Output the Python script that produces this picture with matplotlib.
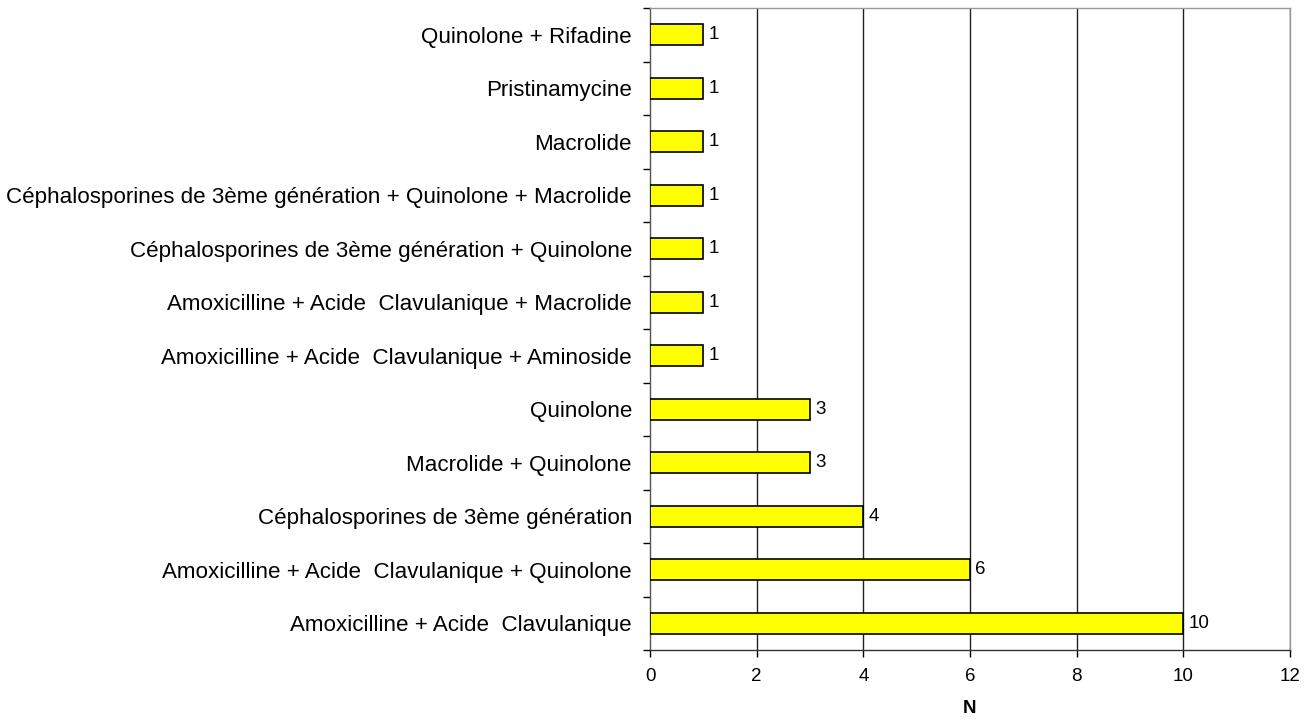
import matplotlib
matplotlib.use("Agg")
import matplotlib.pyplot as plt
import numpy as np

plt.rcParams['font.family'] = ['Liberation Sans', 'DejaVu Sans']

categories = [
    "Amoxicilline + Acide  Clavulanique",
    "Amoxicilline + Acide  Clavulanique + Quinolone",
    "Céphalosporines de 3ème génération",
    "Macrolide + Quinolone",
    "Quinolone",
    "Amoxicilline + Acide  Clavulanique + Aminoside",
    "Amoxicilline + Acide  Clavulanique + Macrolide",
    "Céphalosporines de 3ème génération + Quinolone",
    "Céphalosporines de 3ème génération + Quinolone + Macrolide",
    "Macrolide",
    "Pristinamycine",
    "Quinolone + Rifadine",
]
counts = [10, 6, 4, 3, 3, 1, 1, 1, 1, 1, 1, 1]
x_ticks = [0, 2, 4, 6, 8, 10, 12]

fig = plt.figure(figsize=(13.16, 7.19), dpi=100)
ax = fig.add_axes([650 / 1316, 1 - 650 / 719, 640 / 1316, 642 / 719])

y = np.arange(len(categories))
ax.barh(y, counts, height=0.4, color="#FFFF00", edgecolor="black", linewidth=1.2, zorder=3)
for yi, v in zip(y, counts):
    ax.text(v + 0.1, yi, str(v), va="center", ha="left", fontsize=13.5)

ax.set_xlim(0, 12)
ax.set_ylim(-0.5, len(categories) - 0.5)
ax.set_xticks(x_ticks)
ax.set_xticklabels([str(t) for t in x_ticks], fontsize=13.5)
ax.tick_params(axis="x", length=5, width=1, pad=8)

ax.set_yticks(y)
ax.set_yticklabels(categories, fontsize=16.1)
ax.set_yticks(np.arange(-0.5, len(categories), 1.0), minor=True)
ax.tick_params(axis="y", which="major", length=0, pad=13)
ax.tick_params(axis="y", which="minor", length=5, width=1)

for t in x_ticks[1:]:
    ax.axvline(t, color="#222222", linewidth=1, zorder=1)

ax.spines["top"].set_color("#999999")
ax.spines["right"].set_color("#999999")
ax.spines["left"].set_color("#555555")
ax.spines["bottom"].set_color("#333333")
for s in ax.spines.values():
    s.set_linewidth(1)

ax.set_xlabel("N", fontsize=13.5, fontweight="bold", labelpad=11)

fig.savefig("out.png", dpi=100)
